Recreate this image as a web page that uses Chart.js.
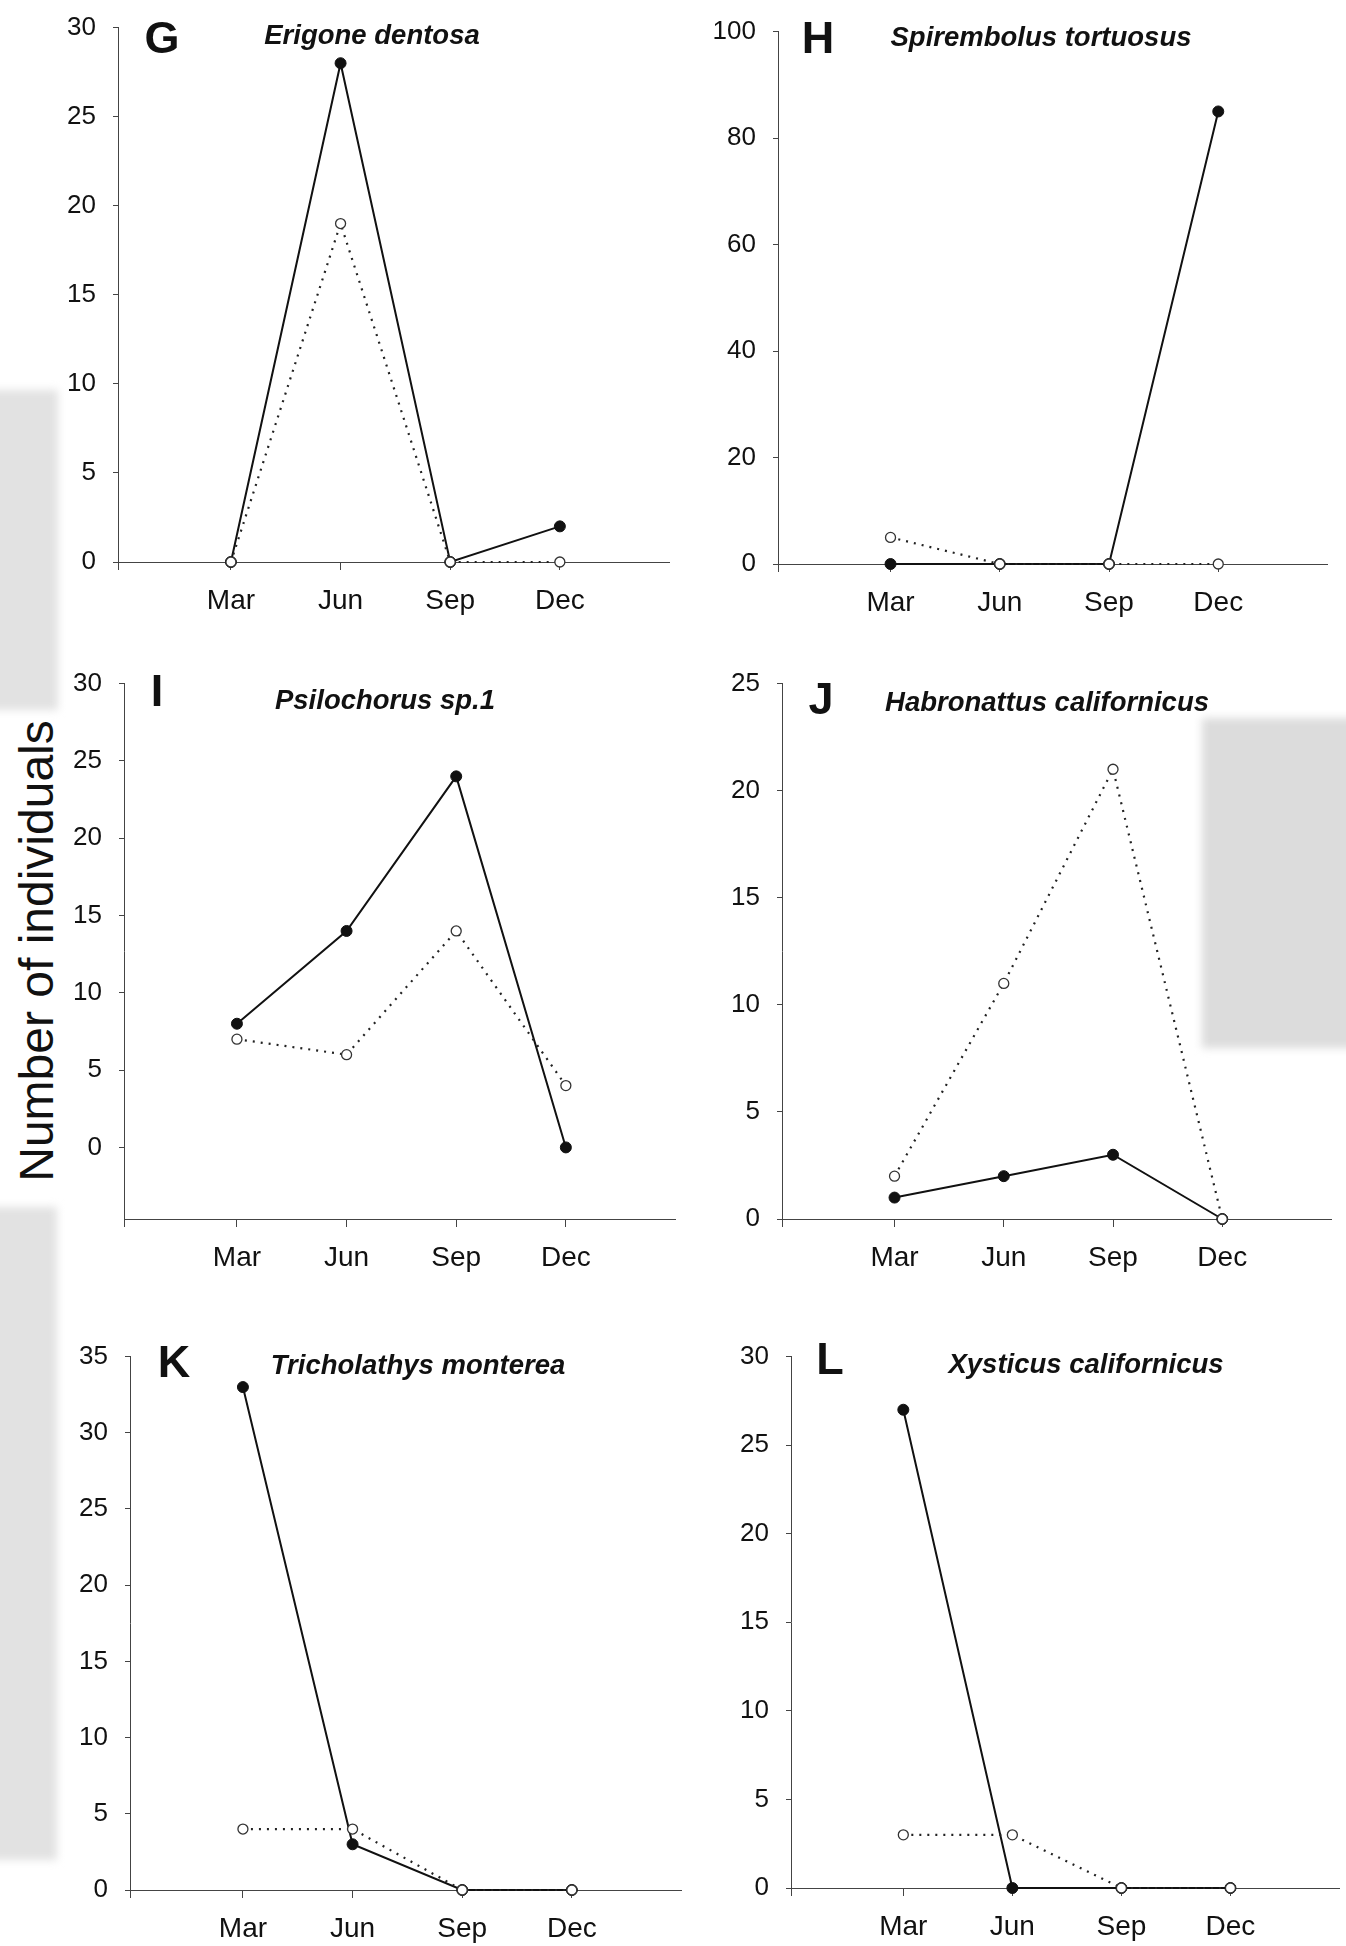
<!DOCTYPE html>
<html>
<head>
<meta charset="utf-8">
<script src="https://cdn.jsdelivr.net/npm/chart.js@4.4.1/dist/chart.umd.min.js"></script>
<style>
  html, body { margin: 0; padding: 0; background: #fff; }
  body { width: 1346px; height: 1946px; overflow: hidden; position: relative; font-family: "Liberation Sans", Arial, sans-serif; }
  .smudge { position: absolute; background: #e2e2e2; filter: blur(4px); }
  canvas { position: absolute; }
  #ytitle {
    position: absolute; left: -263px; top: 921px; width: 600px; height: 60px;
    line-height: 60px; text-align: center; font-size: 48px; color: #111;
    transform: rotate(-90deg);
  }
</style>
</head>
<body>
<div class="smudge" style="left:-10px;top:390px;width:68px;height:320px"></div>
<div class="smudge" style="left:-10px;top:1207px;width:67px;height:653px"></div>
<div class="smudge" style="left:1202px;top:718px;width:160px;height:330px;background:#dcdcdc"></div>
<div id="ytitle">Number of individuals</div>

<script>
// sampling months (x positions 1..4 on the axis)
const months = ['Mar', 'Jun', 'Sep', 'Dec'];

// filled circles / solid line and open circles / dotted line
const erigoneFilled = [0, 28, 0, 2];
const erigoneOpen = [0, 19, 0, 0];
const spirembolusFilled = [0, 0, 0, 85];
const spirembolusOpen = [5, 0, 0, 0];
const psilochorusFilled = [8, 14, 24, 0];
const psilochorusOpen = [7, 6, 14, 4];
const habronattusFilled = [1, 2, 3, 0];
const habronattusOpen = [2, 11, 21, 0];
const tricholathysFilled = [33, 3, 0, 0];
const tricholathysOpen = [4, 4, 0, 0];
const xysticusFilled = [27, 0, 0, 0];
const xysticusOpen = [3, 3, 0, 0];

// y tick labels
const ticks30 = [0, 5, 10, 15, 20, 25, 30];
const ticks100 = [0, 20, 40, 60, 80, 100];
const ticks25 = [0, 5, 10, 15, 20, 25];
const ticks35 = [0, 5, 10, 15, 20, 25, 30, 35];

const FONT = '"Liberation Sans", Arial, sans-serif';
const AXW = 100, PADTOP = 30, AXH = 70;
const XMIN = -0.03, XMAX = 5;

const panels = [
  { letter: 'G', title: 'Erigone dentosa', filled: erigoneFilled, open: erigoneOpen, ticks: ticks30, min: 0, max: 30,
    left: 118, top: 25.3, w: 558, h: 537.7, lx: 162, ly: 41, tx: 372, ty: 37 },
  { letter: 'H', title: 'Spirembolus tortuosus', filled: spirembolusFilled, open: spirembolusOpen, ticks: ticks100, min: 0, max: 100,
    left: 778, top: 29.4, w: 556, h: 535, lx: 818, ly: 41, tx: 1041, ty: 39 },
  { letter: 'I', title: 'Psilochorus sp.1', filled: psilochorusFilled, open: psilochorusOpen, ticks: ticks30, min: -4.63, max: 30,
    left: 124, top: 681, w: 558, h: 538, lx: 157, ly: 694, tx: 385, ty: 701 },
  { letter: 'J', title: 'Habronattus californicus', filled: habronattusFilled, open: habronattusOpen, ticks: ticks25, min: 0, max: 25,
    left: 782, top: 681, w: 556, h: 538, lx: 821, ly: 702, tx: 1047, ty: 703 },
  { letter: 'K', title: 'Tricholathys monterea', filled: tricholathysFilled, open: tricholathysOpen, ticks: ticks35, min: 0, max: 35,
    left: 130, top: 1354, w: 558, h: 536, lx: 174, ly: 1365, tx: 418, ty: 1366 },
  { letter: 'L', title: 'Xysticus californicus', filled: xysticusFilled, open: xysticusOpen, ticks: ticks30, min: 0, max: 30,
    left: 791, top: 1354, w: 555, h: 534, lx: 830, ly: 1362, tx: 1086, ty: 1365 }
];

const panelLabels = {
  id: 'panelLabels',
  afterDraw(chart, args, opts) {
    const ctx = chart.ctx;
    ctx.save();
    ctx.fillStyle = '#111';
    ctx.textAlign = 'center';
    ctx.textBaseline = 'middle';
    ctx.font = 'bold 45px ' + FONT;
    ctx.fillText(opts.letter, opts.lx, opts.ly);
    ctx.font = 'italic bold 27.5px ' + FONT;
    ctx.fillText(opts.title, opts.tx, opts.ty);
    ctx.restore();
  }
};

panels.forEach(p => {
  const canvas = document.createElement('canvas');
  const cl = p.left - AXW, ct = p.top - PADTOP;
  canvas.width = AXW + p.w;
  canvas.height = PADTOP + p.h + AXH;
  canvas.style.left = cl + 'px';
  canvas.style.top = ct + 'px';
  document.body.appendChild(canvas);

  const toPts = arr => arr.map((v, i) => ({ x: i + 1, y: v }));

  new Chart(canvas, {
    type: 'line',
    data: {
      datasets: [
        { data: toPts(p.open), borderColor: '#222', borderWidth: 2.2, borderDash: [2, 6],
          pointRadius: 5, pointBackgroundColor: '#fff', pointBorderColor: '#333', pointBorderWidth: 1.3,
          order: 0, clip: false },
        { data: toPts(p.filled), borderColor: '#111', borderWidth: 2,
          pointRadius: 5.5, pointBackgroundColor: '#111', pointBorderColor: '#111', pointBorderWidth: 1,
          order: 1, clip: false }
      ]
    },
    options: {
      responsive: false,
      animation: false,
      devicePixelRatio: 1,
      layout: { padding: { top: PADTOP, right: 0, left: 0, bottom: 0 } },
      plugins: {
        legend: { display: false },
        tooltip: { enabled: false },
        panelLabels: { letter: p.letter, title: p.title, lx: p.lx - cl, ly: p.ly - ct, tx: p.tx - cl, ty: p.ty - ct }
      },
      scales: {
        x: {
          type: 'linear', min: XMIN, max: XMAX,
          afterBuildTicks: s => { s.ticks = [XMIN, 1, 2, 3, 4].map(v => ({ value: v })); },
          afterFit: s => { s.height = AXH; },
          ticks: { callback: v => months[v - 1] || '', font: { size: 28, family: FONT }, color: '#111',
                   padding: 14, maxRotation: 0, autoSkip: false },
          grid: { drawOnChartArea: false, tickLength: 8, color: '#444', lineWidth: 1 },
          border: { color: '#444', width: 1 }
        },
        y: {
          min: p.min, max: p.max,
          afterBuildTicks: s => { s.ticks = p.ticks.map(v => ({ value: v })); },
          afterFit: s => { s.width = AXW; },
          ticks: { font: { size: 26, family: FONT }, color: '#111', padding: 17 },
          grid: { drawOnChartArea: false, tickLength: 5, color: '#444', lineWidth: 1 },
          border: { color: '#444', width: 1 }
        }
      }
    },
    plugins: [panelLabels]
  });
});
</script>
</body>
</html>
